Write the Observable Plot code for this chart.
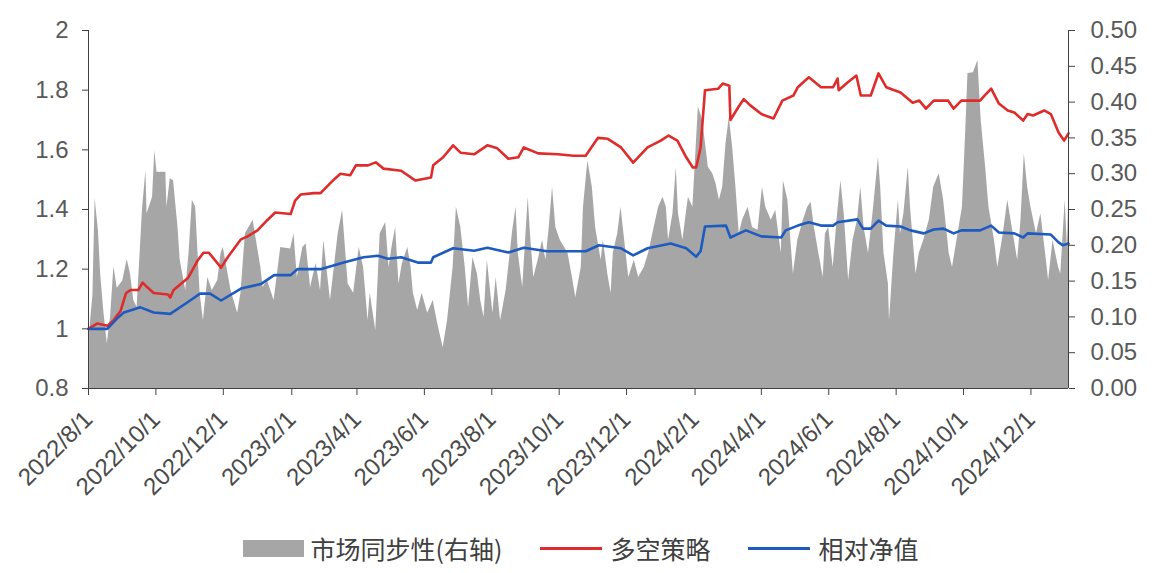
<!DOCTYPE html>
<html><head><meta charset="utf-8">
<script src="https://cdn.jsdelivr.net/npm/d3@7"></script>
<script src="https://cdn.jsdelivr.net/npm/@observablehq/plot@0.6"></script>
<style>
body{margin:0;background:#fff;width:1161px;height:573px;overflow:hidden}
#legend{display:flex;justify-content:center;align-items:center;height:56px;font-family:"Noto Sans CJK SC",sans-serif;font-size:25px;color:#404040}
.item{display:flex;align-items:center;margin:0 19px}
.sw{width:61px;height:17px;margin-right:7px}
.ln{width:62px;height:3px;margin-right:8px}
</style></head><body>
<div id="chart"></div><div id="legend"></div>
<script>
const xStart = "2022-08-01", xEnd = "2025-01-04";
const xTickDates = ["2022-08-01","2022-10-01","2022-12-01","2023-02-01","2023-04-01","2023-06-01","2023-08-01","2023-10-01","2023-12-01","2024-02-01","2024-04-01","2024-06-01","2024-08-01","2024-10-01","2024-12-01"];
const leftTicks = [0.8, 1, 1.2, 1.4, 1.6, 1.8, 2];
const rightTicks = [0, 0.05, 0.1, 0.15, 0.2, 0.25, 0.3, 0.35, 0.4, 0.45, 0.5];
const seriesNames = ["市场同步性(右轴)", "多空策略", "相对净值"];

const syncDates = ["2022-08-02","2022-08-05","2022-08-07","2022-08-10","2022-08-12","2022-08-15","2022-08-18","2022-08-21","2022-08-24","2022-08-27","2022-09-01","2022-09-05","2022-09-08","2022-09-11","2022-09-14","2022-09-19","2022-09-22","2022-09-23","2022-09-28","2022-09-30","2022-10-02","2022-10-10","2022-10-11","2022-10-14","2022-10-17","2022-10-21","2022-10-23","2022-10-28","2022-10-31","2022-11-03","2022-11-06","2022-11-10","2022-11-13","2022-11-17","2022-11-21","2022-11-26","2022-11-29","2022-12-01","2022-12-08","2022-12-14","2022-12-17","2022-12-21","2022-12-28","2022-12-30","2023-01-04","2023-01-06","2023-01-10","2023-01-16","2023-01-22","2023-01-31","2023-02-03","2023-02-06","2023-02-11","2023-02-14","2023-02-18","2023-02-23","2023-02-27","2023-03-02","2023-03-08","2023-03-15","2023-03-19","2023-03-24","2023-03-29","2023-04-03","2023-04-07","2023-04-11","2023-04-13","2023-04-18","2023-04-22","2023-04-27","2023-04-30","2023-05-03","2023-05-06","2023-05-09","2023-05-12","2023-05-17","2023-05-20","2023-05-22","2023-05-26","2023-05-30","2023-06-04","2023-06-09","2023-06-13","2023-06-18","2023-06-22","2023-06-27","2023-06-30","2023-07-04","2023-07-08","2023-07-11","2023-07-15","2023-07-19","2023-07-22","2023-07-25","2023-07-28","2023-08-02","2023-08-05","2023-08-09","2023-08-14","2023-08-20","2023-08-23","2023-08-25","2023-08-29","2023-09-03","2023-09-05","2023-09-08","2023-09-12","2023-09-16","2023-09-19","2023-09-22","2023-09-25","2023-09-28","2023-10-02","2023-10-09","2023-10-13","2023-10-16","2023-10-21","2023-10-23","2023-10-27","2023-10-31","2023-11-03","2023-11-08","2023-11-10","2023-11-14","2023-11-17","2023-11-19","2023-11-23","2023-11-26","2023-11-28","2023-12-03","2023-12-08","2023-12-12","2023-12-17","2023-12-21","2023-12-26","2023-12-30","2024-01-03","2024-01-06","2024-01-08","2024-01-12","2024-01-15","2024-01-17","2024-01-21","2024-01-24","2024-01-26","2024-01-30","2024-02-02","2024-02-04","2024-02-08","2024-02-13","2024-02-17","2024-02-20","2024-02-23","2024-02-26","2024-02-29","2024-03-03","2024-03-06","2024-03-09","2024-03-12","2024-03-15","2024-03-20","2024-03-24","2024-03-29","2024-04-02","2024-04-05","2024-04-10","2024-04-14","2024-04-19","2024-04-21","2024-04-25","2024-04-30","2024-05-04","2024-05-09","2024-05-13","2024-05-16","2024-05-19","2024-05-23","2024-05-27","2024-05-29","2024-06-01","2024-06-05","2024-06-09","2024-06-12","2024-06-15","2024-06-19","2024-06-23","2024-06-27","2024-06-30","2024-07-03","2024-07-07","2024-07-11","2024-07-16","2024-07-18","2024-07-21","2024-07-25","2024-07-26","2024-07-30","2024-08-03","2024-08-05","2024-08-08","2024-08-12","2024-08-14","2024-08-19","2024-08-22","2024-08-26","2024-08-31","2024-09-04","2024-09-09","2024-09-13","2024-09-18","2024-09-21","2024-09-26","2024-09-30","2024-10-03","2024-10-05","2024-10-10","2024-10-14","2024-10-17","2024-10-21","2024-10-24","2024-10-29","2024-11-01","2024-11-06","2024-11-10","2024-11-15","2024-11-19","2024-11-22","2024-11-25","2024-11-28","2024-12-01","2024-12-06","2024-12-10","2024-12-15","2024-12-17","2024-12-21","2024-12-26","2024-12-28","2025-01-01","2025-01-03","2025-01-04"];
const syncValues = [0.08,0.13,0.265,0.22,0.16,0.105,0.063,0.10,0.17,0.14,0.15,0.18,0.16,0.123,0.113,0.253,0.304,0.244,0.267,0.332,0.302,0.302,0.253,0.293,0.29,0.225,0.179,0.137,0.189,0.263,0.253,0.133,0.095,0.155,0.137,0.151,0.189,0.197,0.137,0.105,0.133,0.216,0.235,0.216,0.169,0.141,0.151,0.123,0.197,0.195,0.216,0.155,0.197,0.202,0.141,0.175,0.137,0.207,0.123,0.216,0.249,0.146,0.133,0.197,0.169,0.095,0.133,0.081,0.216,0.232,0.169,0.20,0.225,0.146,0.174,0.197,0.169,0.133,0.109,0.133,0.105,0.123,0.091,0.057,0.095,0.169,0.253,0.225,0.169,0.113,0.183,0.16,0.123,0.099,0.179,0.105,0.155,0.095,0.137,0.221,0.253,0.189,0.141,0.267,0.216,0.155,0.179,0.207,0.179,0.225,0.281,0.225,0.207,0.189,0.155,0.127,0.169,0.253,0.318,0.281,0.225,0.179,0.207,0.16,0.133,0.189,0.216,0.253,0.225,0.155,0.179,0.155,0.169,0.189,0.225,0.253,0.267,0.253,0.207,0.244,0.309,0.244,0.207,0.244,0.267,0.253,0.337,0.393,0.374,0.309,0.30,0.286,0.263,0.281,0.342,0.379,0.337,0.281,0.216,0.235,0.253,0.225,0.221,0.281,0.253,0.235,0.249,0.189,0.29,0.263,0.16,0.207,0.235,0.253,0.26,0.225,0.189,0.155,0.216,0.225,0.169,0.244,0.29,0.244,0.151,0.207,0.235,0.281,0.225,0.189,0.244,0.323,0.281,0.189,0.146,0.095,0.189,0.263,0.216,0.244,0.309,0.253,0.16,0.189,0.207,0.235,0.281,0.30,0.263,0.189,0.169,0.216,0.253,0.36,0.44,0.441,0.458,0.374,0.309,0.253,0.207,0.169,0.216,0.263,0.216,0.179,0.235,0.328,0.281,0.253,0.216,0.244,0.179,0.151,0.207,0.169,0.16,0.263,0.197,0.253];

const longShortDates = ["2022-08-01","2022-08-09","2022-08-18","2022-08-24","2022-08-30","2022-09-04","2022-09-08","2022-09-15","2022-09-19","2022-09-23","2022-09-29","2022-10-12","2022-10-14","2022-10-17","2022-10-30","2022-11-08","2022-11-13","2022-11-18","2022-11-29","2022-12-05","2022-12-17","2022-12-23","2023-01-01","2023-01-10","2023-01-17","2023-01-31","2023-02-04","2023-02-09","2023-02-21","2023-02-27","2023-03-11","2023-03-17","2023-03-26","2023-03-31","2023-04-11","2023-04-18","2023-04-25","2023-05-11","2023-05-24","2023-06-07","2023-06-09","2023-06-18","2023-06-27","2023-07-04","2023-07-16","2023-07-28","2023-08-06","2023-08-16","2023-08-25","2023-08-30","2023-09-12","2023-09-30","2023-10-14","2023-10-25","2023-11-05","2023-11-14","2023-11-26","2023-12-07","2023-12-20","2024-01-01","2024-01-08","2024-01-16","2024-01-24","2024-01-30","2024-02-02","2024-02-06","2024-02-10","2024-02-22","2024-02-26","2024-03-03","2024-03-04","2024-03-11","2024-03-16","2024-03-22","2024-04-01","2024-04-12","2024-04-20","2024-04-30","2024-05-04","2024-05-14","2024-05-25","2024-06-05","2024-06-09","2024-06-10","2024-06-18","2024-06-26","2024-06-30","2024-07-09","2024-07-16","2024-07-23","2024-08-05","2024-08-16","2024-08-22","2024-08-28","2024-09-04","2024-09-17","2024-09-22","2024-09-29","2024-10-16","2024-10-20","2024-10-26","2024-11-02","2024-11-10","2024-11-16","2024-11-24","2024-11-28","2024-12-03","2024-12-13","2024-12-19","2024-12-26","2024-12-31","2025-01-04"];
const longShortValues = [1.00,1.018,1.01,1.03,1.06,1.12,1.13,1.13,1.155,1.14,1.12,1.115,1.105,1.13,1.17,1.23,1.255,1.255,1.205,1.24,1.30,1.31,1.33,1.365,1.39,1.385,1.43,1.45,1.455,1.455,1.50,1.52,1.515,1.548,1.548,1.558,1.537,1.53,1.497,1.507,1.548,1.575,1.615,1.59,1.585,1.615,1.605,1.57,1.575,1.608,1.588,1.585,1.58,1.58,1.64,1.637,1.608,1.557,1.608,1.631,1.648,1.631,1.575,1.541,1.541,1.608,1.80,1.805,1.822,1.815,1.70,1.742,1.77,1.749,1.72,1.705,1.765,1.782,1.81,1.843,1.81,1.81,1.839,1.80,1.826,1.849,1.782,1.782,1.856,1.81,1.792,1.758,1.765,1.738,1.765,1.765,1.738,1.765,1.765,1.782,1.805,1.755,1.732,1.725,1.698,1.72,1.715,1.732,1.72,1.658,1.631,1.655];

const relativeDates = ["2022-08-01","2022-08-18","2022-08-27","2022-09-02","2022-09-17","2022-09-29","2022-10-14","2022-10-30","2022-11-10","2022-11-19","2022-11-29","2022-12-17","2023-01-04","2023-01-16","2023-01-31","2023-02-06","2023-02-27","2023-03-20","2023-04-07","2023-04-20","2023-04-29","2023-05-11","2023-05-26","2023-06-07","2023-06-09","2023-06-27","2023-07-16","2023-07-28","2023-08-16","2023-08-30","2023-09-20","2023-10-25","2023-11-06","2023-11-26","2023-12-07","2023-12-20","2024-01-10","2024-01-24","2024-02-02","2024-02-06","2024-02-10","2024-02-29","2024-03-04","2024-03-18","2024-04-01","2024-04-19","2024-04-23","2024-05-04","2024-05-14","2024-05-25","2024-06-05","2024-06-09","2024-06-27","2024-07-02","2024-07-09","2024-07-16","2024-07-23","2024-08-05","2024-08-14","2024-08-26","2024-09-04","2024-09-13","2024-09-22","2024-09-29","2024-10-16","2024-10-26","2024-11-02","2024-11-16","2024-11-24","2024-11-28","2024-12-19","2024-12-26","2024-12-30","2025-01-04"];
const relativeValues = [1.0,1.0,1.035,1.055,1.072,1.055,1.05,1.09,1.118,1.118,1.095,1.135,1.15,1.18,1.18,1.20,1.20,1.222,1.24,1.245,1.235,1.24,1.222,1.222,1.24,1.27,1.262,1.272,1.256,1.272,1.26,1.26,1.28,1.27,1.246,1.27,1.286,1.27,1.242,1.26,1.343,1.346,1.306,1.33,1.31,1.306,1.33,1.346,1.357,1.346,1.346,1.357,1.367,1.336,1.336,1.363,1.346,1.343,1.33,1.32,1.333,1.336,1.32,1.33,1.33,1.346,1.323,1.32,1.306,1.32,1.316,1.29,1.28,1.286];

const colors = {sync: "#a6a6a6", longShort: "#e02b2b", relative: "#1e5bc0"};

const parse = d3.utcParse("%Y-%m-%d");
const toLeft = v => 0.8 + v * (1.2 / 0.5);
const sync = syncDates.map((d, i) => ({date: parse(d), v: syncValues[i]}));
const longShort = longShortDates.map((d, i) => ({date: parse(d), v: longShortValues[i]}));
const relative = relativeDates.map((d, i) => ({date: parse(d), v: relativeValues[i]}));

const chart = Plot.plot({
  width: 1161, height: 520,
  marginLeft: 88, marginRight: 93, marginTop: 30, marginBottom: 132,
  style: {fontFamily: "'Liberation Sans', Arial, sans-serif", background: "#fff", color: "#595959"},
  x: {type: "utc", domain: [parse(xStart), parse(xEnd)]},
  y: {domain: [0.8, 2]},
  marks: [
    Plot.areaY(sync, {x: "date", y1: () => 0.8, y2: d => toLeft(d.v), fill: colors.sync}),
    Plot.line(longShort, {x: "date", y: "v", stroke: colors.longShort, strokeWidth: 2.6}),
    Plot.line(relative, {x: "date", y: "v", stroke: colors.relative, strokeWidth: 2.6}),
    Plot.ruleX([parse(xStart)], {stroke: "#404040"}),
    Plot.ruleX([parse(xEnd)], {stroke: "#404040"}),
    Plot.ruleY([0.8], {stroke: "#404040"}),
    Plot.axisY(leftTicks, {anchor: "left", tickSize: 6, tickPadding: 14, fontSize: 24, tickFormat: d => String(d), color: "#595959", stroke: "#404040", label: null}),
    Plot.axisY(rightTicks.map(toLeft), {anchor: "right", tickSize: 6, tickPadding: 16, fontSize: 24, tickFormat: v => ((v - 0.8) / 2.4).toFixed(2), color: "#595959", stroke: "#404040", label: null}),
    Plot.axisX(xTickDates.map(parse), {anchor: "bottom", tickSize: 7, tickPadding: 20, tickRotate: -45, fontSize: 24, tickFormat: d3.utcFormat("%Y/%-m/%-d"), color: "#4a4a4a", stroke: "#404040", label: null})
  ]
});
document.getElementById("chart").appendChild(chart);

const legend = document.getElementById("legend");
const kinds = [["sw", colors.sync], ["ln", colors.longShort], ["ln", colors.relative]];
seriesNames.forEach((name, i) => {
  const item = document.createElement("div");
  item.className = "item";
  const sw = document.createElement("div");
  sw.className = kinds[i][0];
  sw.style.background = kinds[i][1];
  const tx = document.createElement("span");
  tx.textContent = name;
  item.appendChild(sw); item.appendChild(tx);
  legend.appendChild(item);
});
</script>
</body></html>
